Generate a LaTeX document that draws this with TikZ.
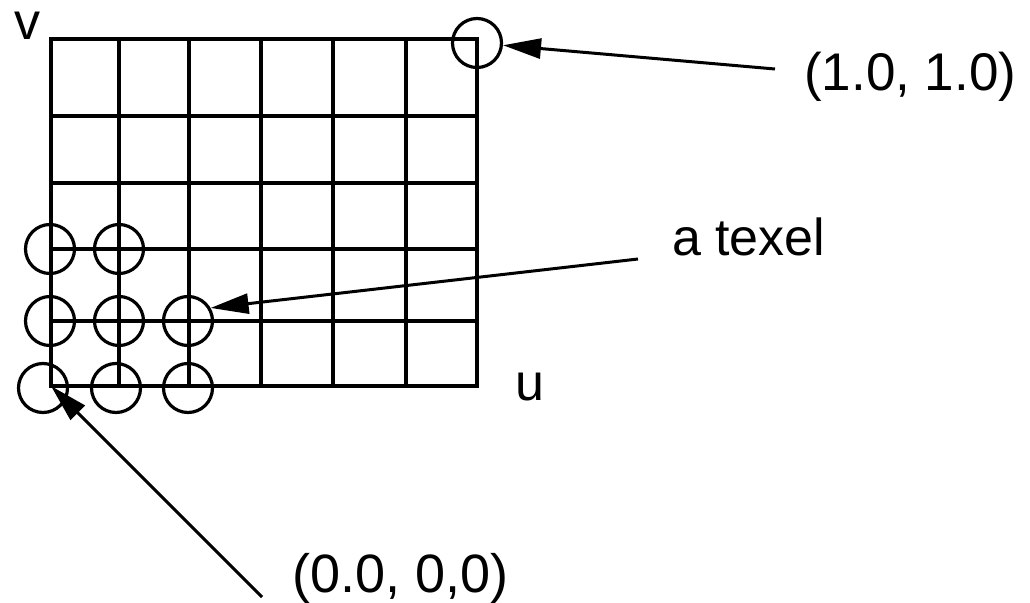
\documentclass[tikz,border=0pt]{standalone}
\usepackage{fontspec}
\setmainfont{Liberation Sans}
\usetikzlibrary{arrows.meta}

\begin{document}
\begin{tikzpicture}[
  x=1pt, y=-1pt,
  gridline/.style={line width=3.2pt, line cap=rect},
  texel/.style={draw, circle, minimum size=49pt, inner sep=0pt, line width=3.2pt},
  lbl/.style={anchor=base west, inner sep=0pt, text height=0.7em, text depth=0.2em,
    font=\fontsize{52}{60}\selectfont},
  ar/.style={-{Triangle[length=38pt, width=20pt]}, line width=3pt},
]
\useasboundingbox (0,0) rectangle (1030,602);

%── Raster ────────────────────────────────────────────────────────────────────

\foreach \x in {51,119,189,261,333,406,477}
  \draw[gridline] (\x,39) -- (\x,386);
\foreach \y in {39,116,183,249,321,386}
  \draw[gridline] (51,\y) -- (477,\y);

\coordinate (origin) at (51,386);

\node[lbl] (vaxis) at (14,40)  {v};
\node[lbl] (uaxis) at (515,400) {u};

%── Texel ─────────────────────────────────────────────────────────────────────

\node[texel] (t00) at (43,388)  {};
\node[texel] (t10) at (116,388) {};
\node[texel] (t20) at (188,388) {};
\node[texel] (t01) at (50,321)  {};
\node[texel] (t11) at (119,321) {};
\node[texel] (t21) at (188,321) {};
\node[texel] (t02) at (50,249)  {};
\node[texel] (t12) at (119,249) {};
\node[texel] (tend) at (477,43) {};

%── Beschriftungen ────────────────────────────────────────────────────────────

\node[lbl, font=\fontsize{53}{60}\selectfont] (lend) at (804,90) {(1.0, 1.0)};
\node[lbl] (ltexel) at (672,255) {a texel};
\node[lbl, font=\fontsize{54}{60}\selectfont] (lzero) at (292,592) {(0.0, 0,0)};

\coordinate (send)   at (775,69);
\coordinate (stexel) at (638,259);
\coordinate (szero)  at (262,597);

\draw[ar] (send)   -- (tend);
\draw[ar] (stexel) -- (t21.30);
\draw[ar] (szero)  -- (origin);

\end{tikzpicture}
\end{document}
